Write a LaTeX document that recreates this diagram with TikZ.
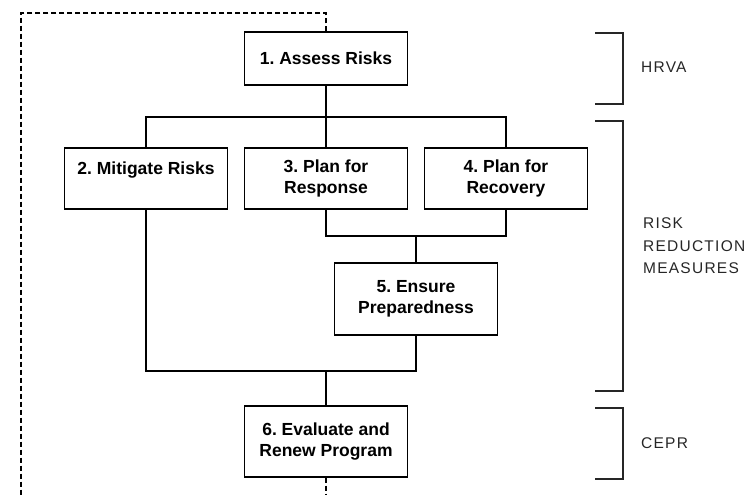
\documentclass[tikz,border=0pt]{standalone}
\usepackage{fontspec}
\setmainfont{Liberation Sans}
\newfontfamily\lblfont[LetterSpace=8]{Liberation Sans}
\frenchspacing
\begin{document}
\begin{tikzpicture}[x=1pt,y=-1pt,
  box/.style={draw=black, line width=1.3pt, minimum width=163pt, inner sep=0pt,
    align=center, font=\bfseries\fontsize{17.5}{20.5}\selectfont\frenchspacing},
  conn/.style={draw=black, line width=1.2pt},
  loop/.style={draw=black, line width=1.1pt, dash pattern=on 5pt off 3pt},
  brk/.style={draw=black!85, line width=1.2pt},
  lbl/.style={anchor=west, inner sep=0pt, align=left, text=black!85,
    font=\lblfont\fontsize{15.5}{22.5}\selectfont}]
\useasboundingbox (0,0) rectangle (748,495);

% boxes
\node[box, minimum height=53pt] (b1) at (326,58.5) {1. Assess Risks};
\node[box, minimum height=61pt] (b2) at (146,178.5) {2. Mitigate Risks\\\mbox{}};
\node[box, minimum height=61pt] (b3) at (326,178.5) {3. Plan for\\Response};
\node[box, minimum height=61pt] (b4) at (506,178.5) {4. Plan for\\Recovery};
\node[box, minimum height=72pt] (b5) at (416,299) {5. Ensure\\Preparedness};
\node[box, minimum height=71pt] (b6) at (326,441.5) {6. Evaluate and\\Renew Program};

% junction coordinates
\coordinate (j1) at (326,117);
\coordinate (j2) at (416,236);
\coordinate (j3) at (326,371);
\coordinate (dtop) at (21,13);
\coordinate (dbot) at (21,495);

% connectors
\draw[conn] (b1.south) -- (j1);
\draw[conn] (b2.north) -- (b2.north |- j1) -- (b4.north |- j1) -- (b4.north);
\draw[conn] (j1) -- (b3.north);
\draw[conn] (b3.south) -- (b3.south |- j2) -- (b4.south |- j2) -- (b4.south);
\draw[conn] (j2) -- (b5.north);
\draw[conn] (b2.south) -- (b2.south |- j3) -- (b5.south |- j3) -- (b5.south);
\draw[conn] (j3) -- (b6.north);

% feedback loop (dashed)
\draw[loop] (b1.north) |- (dtop) -- (dbot);
\draw[loop] (b6.south) -- (b6.south |- dbot);

% brackets
\draw[brk] (595,33) -- (623,33) -- (623,104) -- (595,104);
\draw[brk] (595,121) -- (623,121) -- (623,391) -- (595,391);
\draw[brk] (595,408) -- (623,408) -- (623,479) -- (595,479);

% labels
\node[lbl] (l1) at (641,67) {HRVA};
\node[lbl] (l2) at (643,246) {RISK\\REDUCTION\\MEASURES};
\node[lbl] (l3) at (641,443) {CEPR};
\end{tikzpicture}
\end{document}
